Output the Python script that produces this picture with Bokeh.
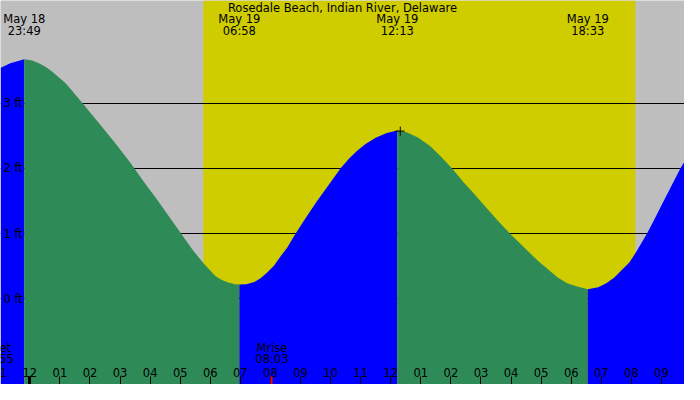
import pandas as pd
from bokeh.plotting import figure
from bokeh.core.properties import value
from bokeh.models import (Range1d, LinearAxis, DatetimeAxis, FixedTicker, Grid,
                          BoxAnnotation, ColumnDataSource, LabelSet, Label,
                          DatetimeTickFormatter)
from bokeh.embed import file_html
from bokeh.resources import INLINE

station = "Rosedale Beach, Indian River, Delaware"

# tide curve (feet above datum)
times = [
    "2024-05-18 23:02", "2024-05-18 23:21", "2024-05-18 23:35",
    "2024-05-18 23:49", "2024-05-19 00:05", "2024-05-19 00:20",
    "2024-05-19 00:32", "2024-05-19 00:45", "2024-05-19 01:12",
    "2024-05-19 01:44", "2024-05-19 02:16", "2024-05-19 02:49",
    "2024-05-19 03:21", "2024-05-19 03:47", "2024-05-19 04:13",
    "2024-05-19 04:38", "2024-05-19 05:02", "2024-05-19 05:25",
    "2024-05-19 05:46", "2024-05-19 06:10", "2024-05-19 06:23",
    "2024-05-19 06:36", "2024-05-19 06:49", "2024-05-19 06:58",
    "2024-05-19 07:12", "2024-05-19 07:28", "2024-05-19 07:41",
    "2024-05-19 07:54", "2024-05-19 08:07", "2024-05-19 08:20",
    "2024-05-19 08:33", "2024-05-19 08:50", "2024-05-19 09:06",
    "2024-05-19 09:32", "2024-05-19 10:04", "2024-05-19 10:20",
    "2024-05-19 10:37", "2024-05-19 10:53", "2024-05-19 11:09",
    "2024-05-19 11:30", "2024-05-19 11:52", "2024-05-19 12:13",
    "2024-05-19 12:33", "2024-05-19 12:55", "2024-05-19 13:19",
    "2024-05-19 13:40", "2024-05-19 14:02", "2024-05-19 14:24",
    "2024-05-19 14:44", "2024-05-19 15:16", "2024-05-19 15:36",
    "2024-05-19 15:58", "2024-05-19 16:34", "2024-05-19 16:54",
    "2024-05-19 17:13", "2024-05-19 17:33", "2024-05-19 17:52",
    "2024-05-19 18:12", "2024-05-19 18:33", "2024-05-19 18:54",
    "2024-05-19 19:10", "2024-05-19 19:26", "2024-05-19 19:43",
    "2024-05-19 19:56", "2024-05-19 20:08", "2024-05-19 20:31",
    "2024-05-19 20:44", "2024-05-19 21:07", "2024-05-19 21:38",
    "2024-05-19 21:46",
]
heights = [
    3.54, 3.61, 3.64,
    3.67, 3.65, 3.60,
    3.55, 3.48, 3.30,
    3.01, 2.71, 2.40,
    2.08, 1.80, 1.53,
    1.26, 1.00, 0.75,
    0.55, 0.35, 0.29,
    0.25, 0.225, 0.22,
    0.225, 0.26, 0.32,
    0.41, 0.51, 0.65,
    0.78, 1.00, 1.19,
    1.49, 1.83, 2.00,
    2.15, 2.27, 2.37,
    2.47, 2.54, 2.58,
    2.55, 2.47, 2.34,
    2.18, 2.00, 1.80,
    1.63, 1.35, 1.18,
    1.00, 0.73, 0.58,
    0.46, 0.33, 0.24,
    0.19, 0.15, 0.18,
    0.24, 0.33, 0.46,
    0.56, 0.70, 1.00,
    1.19, 1.54, 2.00,
    2.10,
]

# high / low tide times shown at the top
event_times = ["2024-05-18 23:49", "2024-05-19 06:58",
               "2024-05-19 12:13", "2024-05-19 18:33"]

sunrise = "2024-05-19 05:46"
sunset = "2024-05-19 20:08"

moon_times = ["2024-05-18 22:55", "2024-05-19 08:03"]
moon_names = ["Mset", "Mrise"]

mark_time = "2024-05-19 12:19"
mark_height = 2.57

ft_ticks = [0, 1, 2, 3]
hour_ticks = pd.date_range("2024-05-18 23:00", "2024-05-19 21:00", freq="h")
day_start = "2024-05-19 00:00"

x_start, x_end = "2024-05-18 23:01:30", "2024-05-19 21:46"
y_start, y_end = -1.31, 4.57

FONT = "DejaVu Sans"
SIZE = "11.5px"


def ms(t):
    return pd.Timestamp(t).value / 1e6


ts = pd.to_datetime(times)

p = figure(width=684, height=384, x_axis_type="datetime",
           x_axis_location=None, y_axis_location=None,
           x_range=Range1d(ms(x_start), ms(x_end)),
           y_range=Range1d(y_start, y_end),
           output_backend="svg", toolbar_location=None, min_border=0)
p.background_fill_color = "#BEBEBE"
p.border_fill_color = "#BEBEBE"
p.outline_line_color = None
p.xgrid.visible = False
p.ygrid.visible = False

# daylight
p.add_layout(BoxAnnotation(left=ms(sunrise), right=ms(sunset),
                           fill_color="#CFCC00", fill_alpha=1,
                           line_color=None, level="image"))

p.add_layout(Grid(dimension=1, ticker=FixedTicker(ticks=ft_ticks),
                  grid_line_color="black", grid_line_width=1))

# split the curve into rising and falling parts
runs = []
start = 0
for i in range(1, len(heights) - 1):
    if (heights[i] - heights[i - 1]) * (heights[i + 1] - heights[i]) < 0:
        runs.append((start, i))
        start = i
runs.append((start, len(heights) - 1))
for a, b in runs:
    color = "#0000FF" if heights[b] > heights[a] else "#2E8B57"
    p.varea(x=ts[a:b + 1], y1=y_start, y2=heights[a:b + 1],
            fill_color=color, fill_alpha=1)

p.scatter(x=[pd.Timestamp(mark_time)], y=[mark_height], marker="cross",
          size=9, line_color="black", line_width=1)

# hour axis drawn inside the bottom of the plot
hour_axis = DatetimeAxis(ticker=FixedTicker(ticks=[t.value / 1e6 for t in hour_ticks]),
                         formatter=DatetimeTickFormatter(hours="%I", hourmin="%I",
                                                         boundary_scaling=False),
                         fixed_location=y_start, axis_line_color=None,
                         major_tick_in=0, major_tick_out=8,
                         major_tick_line_color="black",
                         major_label_standoff=0,
                         major_label_text_font=FONT,
                         major_label_text_font_size=SIZE,
                         major_label_text_color="black")
p.add_layout(hour_axis, "above")

# first hour sits just left of the plot edge, only partly seen
p.add_layout(Label(x=hour_ticks[0].value / 1e6, y=8, y_units="screen",
                   text=f"{hour_ticks[0]:%I}", text_align="center",
                   text_baseline="bottom", text_font=FONT,
                   text_font_size=SIZE, text_color="black"))

day_axis = DatetimeAxis(ticker=FixedTicker(ticks=[ms(day_start)]),
                        fixed_location=y_start, axis_line_color=None,
                        major_tick_in=0, major_tick_out=8,
                        major_tick_line_width=3, major_label_text_color=None)
p.add_layout(day_axis, "above")

moon_axis = DatetimeAxis(ticker=FixedTicker(ticks=[ms(t) for t in moon_times]),
                         fixed_location=y_start, axis_line_color=None,
                         major_tick_in=0, major_tick_out=8,
                         major_tick_line_width=2, major_tick_line_color="red",
                         major_label_text_color=None)
p.add_layout(moon_axis, "above")

ft_axis = LinearAxis(ticker=FixedTicker(ticks=ft_ticks),
                     major_label_overrides={t: f"{t} ft" for t in ft_ticks},
                     fixed_location=ms(x_start), axis_line_color=None,
                     major_tick_in=0, major_tick_out=0,
                     major_label_standoff=3,
                     major_label_text_font=FONT,
                     major_label_text_font_size=SIZE,
                     major_label_text_color="black")
p.add_layout(ft_axis, "right")

# tide event labels at the top
ev = pd.to_datetime(event_times)
ev_src = ColumnDataSource(dict(
    t=ev,
    day=[f"{t:%b} {t.day}" for t in ev],
    hm=[f"{t:%H:%M}" for t in ev],
))
for col, y in (("day", 365.5), ("hm", 353.8)):
    p.add_layout(LabelSet(x="t", y=y, y_units="screen", text=col, source=ev_src,
                          text_align="center", text_baseline="middle",
                          text_font=value(FONT), text_font_size=value(SIZE),
                          text_color="black"))

mt = pd.to_datetime(moon_times)
moon_src = ColumnDataSource(dict(t=mt, name=moon_names,
                                 hm=[f"{t:%H:%M}" for t in mt]))
for col, y in (("name", 36.8), ("hm", 25.6)):
    p.add_layout(LabelSet(x="t", y=y, y_units="screen", text=col, source=moon_src,
                          text_align="center", text_baseline="middle",
                          text_font=value(FONT), text_font_size=value(SIZE),
                          text_color="black"))

p.add_layout(Label(x=342, y=377, x_units="screen", y_units="screen",
                   text=station, text_align="center", text_baseline="middle",
                   text_font=FONT, text_font_size=SIZE, text_color="black"))

open("out.html", "w").write(file_html(p, INLINE))
